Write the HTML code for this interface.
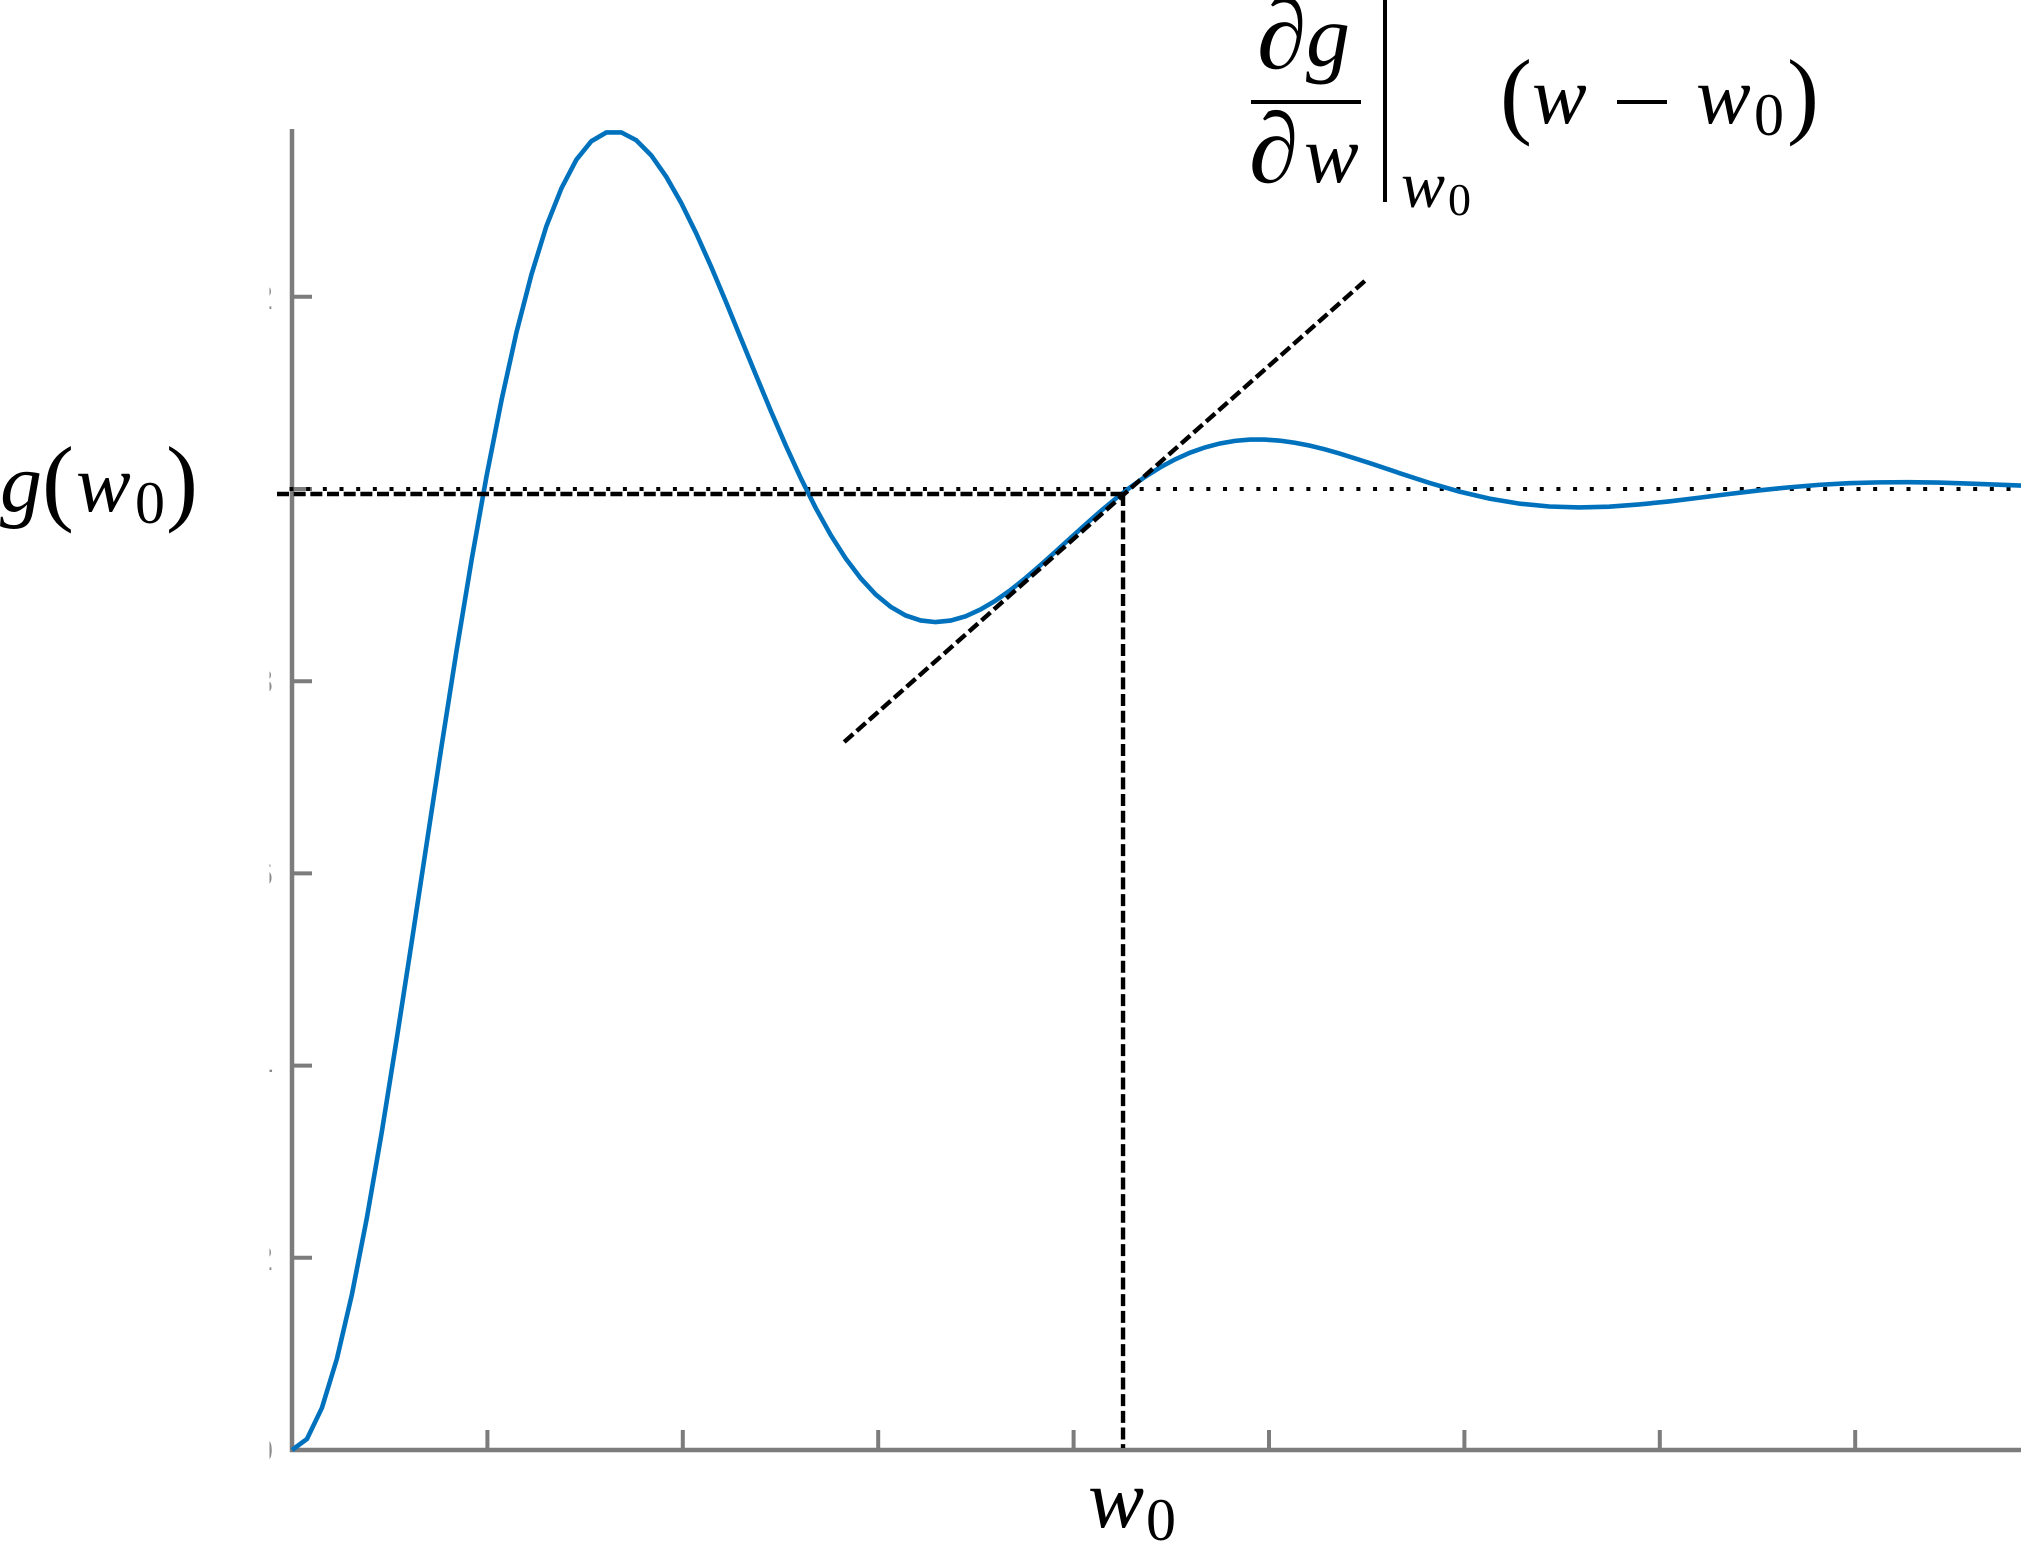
<!DOCTYPE html>
<html lang="en">
<head>
<meta charset="utf-8">
<title>Tangent line approximation of g at w0</title>
<style>
html,body{margin:0;padding:0;background:#fff;width:2021px;height:1542px;overflow:hidden}
svg{display:block}
.m{font-family:"Liberation Serif",serif;fill:#000}
.i{font-style:italic}
</style>
</head>
<body>
<svg id="chart" xmlns="http://www.w3.org/2000/svg" width="2021" height="1542" viewBox="0 0 2021 1542">
<defs><clipPath id="tick-clip"><rect x="269.5" y="0" width="3.5" height="1542"/></clipPath></defs>
<rect width="2021" height="1542" fill="#fff"/>
<g id="tick-labels" clip-path="url(#tick-clip)"></g>
<g id="axes"></g>
<g id="marks"></g>

<g>
<text class="m i" x="0" y="511" font-size="84">g</text>
<text class="m" x="42" y="513" font-size="96">(</text>
<text class="m i" x="76" y="511" font-size="82">w</text>
<text class="m" x="135" y="523" font-size="60">0</text>
<text class="m" x="166" y="513" font-size="96">)</text>
</g>

<g>
<text class="m i" x="1088" y="1527" font-size="84">w</text>
<text class="m" x="1146" y="1540" font-size="60">0</text>
</g>

<g>
<text class="m i" x="1257" y="68" font-size="100">∂</text>
<text class="m i" x="1306" y="66" font-size="88">g</text>
<rect x="1251" y="100" width="110" height="4" fill="#000"/>
<text class="m i" x="1249" y="182" font-size="100">∂</text>
<text class="m i" x="1304" y="182" font-size="82">w</text>
<rect x="1383" y="0" width="4" height="202" fill="#000"/>
<text class="m i" x="1401" y="207" font-size="66">w</text>
<text class="m" x="1448" y="215" font-size="46">0</text>
<text class="m" x="1500" y="126" font-size="96">(</text>
<text class="m i" x="1532" y="123" font-size="82">w</text>
<rect x="1617" y="100" width="50" height="4" fill="#000"/>
<text class="m i" x="1696" y="123" font-size="82">w</text>
<text class="m" x="1754" y="135" font-size="60">0</text>
<text class="m" x="1787" y="126" font-size="96">)</text>
</g>
</svg>
<script>
const xTicks = [0, 1, 2, 3, 4, 5, 6, 7, 8];
const yTicks = [0, 0.2, 0.4, 0.6, 0.8, 1, 1.2];
const yTickLabels = ["0", "0.2", "0.4", "0.6", "0.8", "", "1.2"];
const wValues = [0,0.0766,0.1532,0.2298,0.3064,0.383,0.4596,0.5362,0.6128,0.6894,0.766,0.8426,0.9192,0.9958,1.0724,1.149,1.2256,1.3022,1.3788,1.4554,1.532,1.6086,1.6852,1.7618,1.8384,1.915,1.9916,2.0682,2.1448,2.2214,2.298,2.3746,2.4512,2.5278,2.6044,2.681,2.7576,2.8342,2.9108,2.9874,3.064,3.1406,3.2172,3.2938,3.3704,3.447,3.5236,3.6002,3.6768,3.7534,3.83,3.9066,3.9832,4.0598,4.1364,4.213,4.2896,4.3662,4.4428,4.5194,4.596,4.6726,4.7492,4.8258,4.9024,4.979,5.0556,5.1322,5.2088,5.2854,5.362,5.5152,5.6684,5.8216,5.9748,6.128,6.2812,6.4344,6.5876,6.7408,6.894,7.0472,7.2004,7.3536,7.5068,7.66,7.8132,7.9664,8.1196,8.2728,8.426,8.5792,8.7324,8.8856];
const gValues = [0,0.0114,0.0439,0.0949,0.1617,0.2413,0.331,0.4282,0.5288,0.6313,0.7333,0.8323,0.9263,1.0136,1.0926,1.1632,1.2233,1.2737,1.3129,1.3427,1.3619,1.371,1.3711,1.3629,1.3472,1.325,1.2978,1.2662,1.2314,1.1945,1.1563,1.1184,1.0809,1.0449,1.0111,0.9799,0.9519,0.9276,0.907,0.8902,0.8774,0.8684,0.8632,0.8615,0.8631,0.8675,0.8746,0.8838,0.8948,0.9072,0.9206,0.9346,0.9488,0.9629,0.9766,0.9896,1.0017,1.0127,1.0225,1.0308,1.0378,1.0433,1.0474,1.0501,1.0514,1.0514,1.0503,1.0481,1.0451,1.0413,1.0369,1.027,1.0165,1.0063,0.9973,0.99,0.9848,0.9818,0.9808,0.9816,0.9839,0.9871,0.9909,0.9948,0.9985,1.0017,1.0043,1.006,1.0069,1.0071,1.0067,1.0057,1.0045,1.0033];
const steadyLevel = [1];
const w0Value = [4.253];
const gAtW0 = [0.9948];
const tangentW = [2.826, 5.49];
const tangentG = [0.7367, 1.2164];
const wMax = 8.9;

const NS = 'http://www.w3.org/2000/svg';
function xScale(w) { return 292 + 195.4 * w; }
function yScale(g) { return 1450 - 961 * g; }
function make(parent, tag, attrs) {
  const el = document.createElementNS(NS, tag);
  for (const k in attrs) el.setAttribute(k, attrs[k]);
  parent.appendChild(el);
  return el;
}
const axes = document.getElementById('axes');
const marks = document.getElementById('marks');
const labels = document.getElementById('tick-labels');
const AXIS = '#7c7c7c';

xTicks.forEach(function (t) {
  const tick = make(axes, 'line', { x1: xScale(t), x2: xScale(t), y1: yScale(0), y2: yScale(0) - 20, stroke: AXIS, 'stroke-width': 4 });
  
  
});
yTicks.forEach(function (t, i) {
  const tick = make(axes, 'line', { x1: xScale(0), x2: xScale(0) + 20, y1: yScale(t), y2: yScale(t), stroke: AXIS, 'stroke-width': 4 });
  
  
  const lab = make(labels, 'text', { x: 273, y: yScale(t) + 12, 'text-anchor': 'end', 'font-size': 34, fill: '#8a8a8a', 'font-family': '"Liberation Sans", sans-serif' });
  lab.textContent = yTickLabels[i];
  
  
});
const yAxis = make(axes, 'line', { x1: xScale(0), x2: xScale(0), y1: 129, y2: yScale(0) + 2, stroke: AXIS, 'stroke-width': 4.5 });


const xAxis = make(axes, 'line', { x1: xScale(0) - 2, x2: xScale(wMax), y1: yScale(0), y2: yScale(0), stroke: AXIS, 'stroke-width': 4.5 });



const dotted = make(marks, 'line', { x1: 289.5, x2: xScale(wMax), y1: yScale(steadyLevel[0]), y2: yScale(steadyLevel[0]), stroke: '#000', 'stroke-width': 4, 'stroke-dasharray': '4 12.67' });



const curve = make(marks, 'polyline', { fill: 'none', stroke: '#0072BD', 'stroke-width': 4.6, points: wValues.map(function (w, i) { return xScale(w).toFixed(2) + ',' + yScale(gValues[i]).toFixed(2); }).join(' ') });



const hDash = make(marks, 'line', { x1: 277, x2: xScale(w0Value[0]), y1: yScale(gAtW0[0]), y2: yScale(gAtW0[0]), stroke: '#000', 'stroke-width': 4.4, 'stroke-dasharray': '12 4.67' });



const vDash = make(marks, 'line', { x1: xScale(w0Value[0]), x2: xScale(w0Value[0]), y1: yScale(gAtW0[0]), y2: yScale(0) - 2, stroke: '#000', 'stroke-width': 4.4, 'stroke-dasharray': '12 4.67' });



const tangent = make(marks, 'line', { x1: xScale(tangentW[0]), x2: xScale(tangentW[1]), y1: yScale(tangentG[0]), y2: yScale(tangentG[1]), stroke: '#000', 'stroke-width': 4.4, 'stroke-dasharray': '12 4.67' });


</script>
</body>
</html>
